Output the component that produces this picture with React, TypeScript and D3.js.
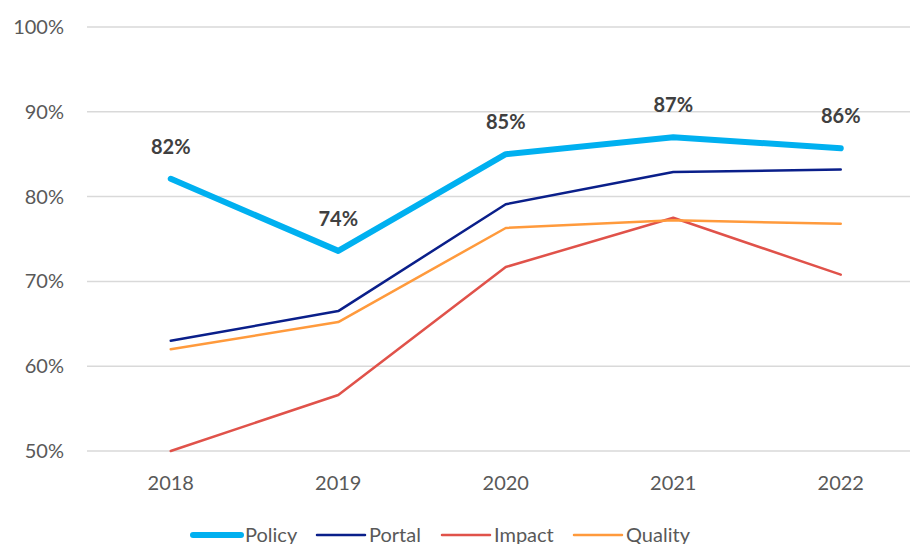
import React from "react";
import * as d3 from "d3";

const years = ["2018", "2019", "2020", "2021", "2022"];
const policy = [82.1, 73.6, 85.0, 87.0, 85.7];
const portal = [63.0, 66.5, 79.1, 82.9, 83.2];
const impact = [50.0, 56.6, 71.7, 77.5, 70.8];
const quality = [62.0, 65.2, 76.3, 77.2, 76.8];
const policyLabels = ["82%", "74%", "85%", "87%", "86%"];
const yTicks = [50, 60, 70, 80, 90, 100];

const seriesList = [
  { name: "Policy", values: policy, color: "#00B0F0", width: 6 },
  { name: "Portal", values: portal, color: "#0A1F8A", width: 2.5 },
  { name: "Impact", values: impact, color: "#E0524A", width: 2.5 },
  { name: "Quality", values: quality, color: "#FF9A3C", width: 2.5 },
];

export default function App() {
  const W = 910, H = 544;
  const x = d3.scaleBand().domain(years).range([87, 924.5]);
  const y = d3.scaleLinear().domain([50, 100]).range([451, 27]);
  const cx = (yr: string) => (x(yr) as number) + x.bandwidth() / 2;
  const line = d3.line<number>().x((_, i) => cx(years[i])).y((d) => y(d));
  const font = "Lato, 'Open Sans', sans-serif";
  const legendX = [193, 317, 442, 574];
  const drawOrder = [seriesList[1], seriesList[2], seriesList[3], seriesList[0]];
  return (
    <svg width={W} height={H} style={{ position: "absolute", left: 0, top: 0, background: "#fff" }}>
      {yTicks.map((t) => (
        <g key={t}>
          <line x1={87} x2={W} y1={y(t)} y2={y(t)} stroke="#D9D9D9" strokeWidth={1.5} />
          <text x={64} y={y(t)} dy="0.35em" textAnchor="end" fontFamily={font} fontSize={20} fill="#595959">
            {t}%
          </text>
        </g>
      ))}
      {years.map((yr) => (
        <text key={yr} x={cx(yr)} y={483} dy="0.35em" textAnchor="middle" fontFamily={font} fontSize={20} fill="#595959">
          {yr}
        </text>
      ))}
      {drawOrder.map((s) => (
        <path key={s.name} d={line(s.values) || ""} fill="none" stroke={s.color} strokeWidth={s.width} strokeLinejoin="round" strokeLinecap="round" />
      ))}
      {policy.map((v, i) => (
        <text key={i} x={cx(years[i])} y={y(v) - 32} dy="0.35em" textAnchor="middle" fontFamily={font} fontWeight="bold" fontSize={20} fill="#404040">
          {policyLabels[i]}
        </text>
      ))}
      {seriesList.map((s, i) => (
        <g key={s.name}>
          <line x1={legendX[i]} x2={legendX[i] + 48} y1={535} y2={535} stroke={s.color} strokeWidth={s.width} strokeLinecap="round" />
          <text x={legendX[i] + 52} y={535} dy="0.35em" fontFamily={font} fontSize={20} fill="#595959">
            {s.name}
          </text>
        </g>
      ))}
    </svg>
  );
}
